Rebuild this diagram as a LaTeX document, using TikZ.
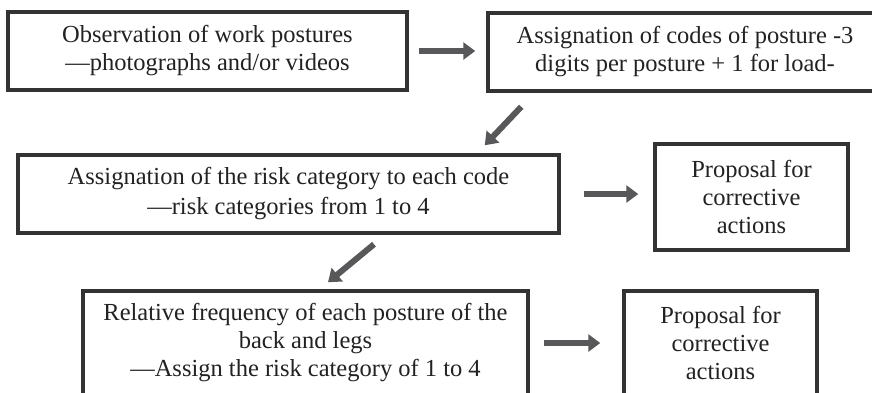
\documentclass[tikz,border=0pt]{standalone}
\usepackage{fontspec}
\setmainfont{Liberation Serif}
\usetikzlibrary{arrows.meta, positioning, calc}
\definecolor{boxline}{HTML}{333333}
\definecolor{arrowgray}{HTML}{58585A}
\definecolor{textdark}{HTML}{222222}

\begin{document}
\begin{tikzpicture}[
    x=0.5pt, y=-0.5pt,
    box/.style={rectangle, draw=boxline, line width=1.75pt, fill=white,
                text=textdark, align=center, inner sep=0pt,
                font=\fontsize{12.25}{14}\selectfont},
    arrow/.style={-{Triangle[length=6pt, width=8.5pt]}, line width=3pt,
                draw=arrowgray},
]

% Frame
\useasboundingbox (0,0) rectangle (872,392);
\fill[white] (0,0) rectangle (872,392);
\clip (0,0) rectangle (872,392);

% Top row
\node[box, minimum width=199.5pt, minimum height=39pt] (obs) at (207.5,51)
    {Observation of work postures\\---photographs and/or videos};
\node[box, minimum width=197pt, minimum height=39pt] (codes) at (685,52)
    {Assignation of codes of posture -3\\digits per posture + 1 for load-};

% Middle row
\node[box, minimum width=270.5pt, minimum height=39pt,
    font=\fontsize{12.25}{15}\selectfont] (risk) at (288.5,194)
    {Assignation of the risk category to each code\\---risk categories from 1 to 4};
\node[box, minimum width=96.5pt, minimum height=53pt] (prop1) at (751.5,197)
    {Proposal for\\corrective\\actions};

% Bottom row
\node[box, minimum width=222.5pt, minimum height=52pt] (freq) at (305.5,343)
    {Relative frequency of each posture of the\\back and legs\\---Assign the risk category of 1 to 4};
\node[box, minimum width=96.5pt, minimum height=52pt] (prop2) at (720.5,343)
    {Proposal for\\corrective\\actions};

% Arrows
\draw[arrow, shorten <=5pt, shorten >=5.5pt] (obs.east) -- (obs.east -| codes.west);
\draw[arrow] ($(codes.south west)+(35,14)$) -- ($(risk.north east)+(-76,-8)$);
\draw[arrow, shorten <=11.5pt, shorten >=7.5pt] (risk.east) -- (risk.east -| prop1.west);
\draw[arrow] ($(risk.south)+(85.5,9.5)$) -- ($(freq.north)+(22.5,-7)$);
\draw[arrow, shorten <=7pt, shorten >=11pt] (freq.east) -- (prop2.west);

\end{tikzpicture}
\end{document}
